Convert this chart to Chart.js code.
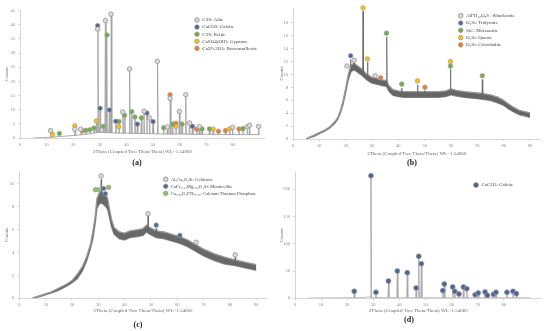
<!DOCTYPE html>
<html>
<head>
<meta charset="utf-8">
<script src="https://cdn.jsdelivr.net/npm/chart.js@4.4.1/dist/chart.umd.min.js"></script>
<style>
  body { margin: 0; background: #fff; width: 550px; height: 331px; position: relative; overflow: hidden; font-family: "Liberation Serif", serif; }
  canvas { position: absolute; }
  .tag { position: absolute; font-weight: bold; font-size: 8px; color: #222; transform: translate(-50%, -50%); }
</style>
</head>
<body>
<canvas id="chartA" width="275" height="165" style="left:0;top:0"></canvas>
<canvas id="chartB" width="275" height="165" style="left:275px;top:0"></canvas>
<canvas id="chartC" width="275" height="166" style="left:0;top:165px"></canvas>
<canvas id="chartD" width="275" height="166" style="left:275px;top:165px"></canvas>
<div class="tag" id="tagA" style="left:137px;top:162px"></div>
<div class="tag" id="tagB" style="left:412px;top:162px"></div>
<div class="tag" id="tagC" style="left:138px;top:324px"></div>
<div class="tag" id="tagD" style="left:409px;top:319px"></div>
<script>
const xTitle = "2Theta (Coupled Two Theta/Theta) WL=1.54060";
const yTitle = "Counts";
const panelTags = ["(a)", "(b)", "(c)", "(d)"];

// (a) cement: background trace and peaks
const bgPosA = [5, 10, 15, 20, 25, 28, 30, 35, 40, 45, 50, 55, 60, 65, 70, 75, 80, 85, 90];
const bgCountA = [0, 0.2, 0.5, 0.9, 1.3, 1.8, 2.0, 1.8, 1.7, 1.6, 1.5, 1.4, 1.4, 1.3, 1.3, 1.2, 1.2, 1.2, 1.2];
const peakPosA = [11.6, 20.7, 22.9, 24.8, 26.3, 27.8, 28.7, 29.3, 30.1, 31.3, 32.1, 32.6, 33.6, 34.3, 36.0, 37.2, 38.7, 39.4, 41.2, 42.0, 43.2, 44.1, 45.6, 46.6, 47.7, 48.7, 50.0, 51.7, 54.0, 55.4, 56.5, 57.4, 58.6, 59.9, 60.9, 62.3, 63.7, 64.8, 66.4, 67.4, 68.4, 71.2, 72.6, 74.6, 77.2, 78.8, 79.9, 82.3, 83.8, 85.5, 86.3, 89.7];
const peakTopA = [1.8, 3.4, 2.3, 2.0, 2.2, 2.7, 5.2, 38.0, 9.8, 3.3, 40.8, 35.6, 9.2, 43.2, 5.1, 5.0, 8.5, 7.3, 23.8, 8.6, 6.7, 4.2, 6.4, 8.8, 8.1, 6.4, 5.1, 26.5, 2.9, 3.2, 13.4, 4.2, 4.4, 8.7, 4.2, 14.7, 4.6, 3.4, 2.4, 3.3, 2.5, 2.5, 2.4, 1.8, 1.9, 2.5, 3.1, 2.5, 2.6, 3.3, 3.8, 3.4];
const peakBaseA = [0.3, 0.9, 1.1, 1.3, 1.5, 1.7, 1.9, 2.0, 2.0, 1.9, 1.9, 1.9, 1.8, 1.8, 1.7, 1.7, 1.7, 1.7, 1.6, 1.6, 1.6, 1.6, 1.6, 1.6, 1.6, 1.5, 1.5, 1.5, 1.4, 1.4, 1.4, 1.4, 1.4, 1.4, 1.4, 1.4, 1.3, 1.3, 1.3, 1.3, 1.3, 1.3, 1.3, 1.2, 1.2, 1.2, 1.2, 1.2, 1.2, 1.2, 1.2, 1.2];
const phaseNamesA = ["C3S: Alite", "CaCO3: Calcite", "C2S: Belite", "CaSO4(OH): Gypsum", "Ca2Fe2O5: Brownmillerite"];
const aliteA = [[11.5, 2.6], [20.6, 3.1], [22.8, 3.1], [29.2, 38.5], [32.1, 41.5], [34.2, 43.8], [38.6, 9.2], [41.2, 24.4], [46.6, 9.5], [48.7, 7.1], [51.6, 27.1], [55.4, 3.9], [56.4, 14.0], [59.9, 9.4], [62.3, 15.3], [63.7, 5.3], [67.4, 4.0], [79.9, 3.8], [85.5, 4.0], [86.3, 4.5], [89.7, 4.1]];
const calciteA = [[29.2, 39.7], [30.1, 10.5], [33.6, 9.9], [36.0, 5.9], [44.1, 4.9], [47.7, 8.8], [50.0, 5.8], [64.8, 4.1]];
const beliteA = [[14.8, 1.6], [24.8, 2.7], [26.3, 2.9], [27.8, 3.5], [31.3, 4.1], [32.7, 36.4], [37.2, 5.8], [39.3, 8.0], [42.0, 9.3], [43.2, 7.4], [45.6, 7.1], [54.0, 3.6], [57.4, 4.9], [60.9, 4.9], [68.4, 3.2], [71.2, 3.2], [83.8, 3.3]];
const gypsumA = [[12.2, 1.2], [20.6, 4.3], [28.7, 6.0], [37.1, 4.0], [58.6, 4.1], [72.6, 3.1], [78.8, 3.2]];
const brownA = [[23.6, 2.5], [56.4, 15.3], [58.6, 5.2], [66.4, 3.1], [74.6, 2.4], [77.2, 2.6], [82.3, 3.2]];

// (b) noisy band (upper / lower edge) and peaks
const posB = [5, 8, 10, 12, 14, 16, 17, 18, 19, 20, 21, 22, 23, 24, 26, 28, 30, 32, 34, 35.5, 36.5, 38, 40, 42, 45, 50, 55, 58, 60, 62, 65, 70, 72, 75, 78, 80, 82, 84, 86, 88, 90];
const upperB = [0.05, 0.6, 1.0, 1.4, 1.9, 2.75, 3.35, 4.4, 5.9, 7.85, 10.05, 11.4, 11.7, 11.5, 10.9, 10.05, 9.55, 9.35, 9.15, 9.05, 8.25, 7.65, 7.45, 7.35, 7.35, 7.35, 7.35, 7.45, 7.75, 7.55, 7.35, 7.15, 7.05, 6.85, 6.45, 6.0, 5.4, 4.85, 4.45, 4.25, 4.05];
const lowerB = [0, 0.4, 0.8, 1.2, 1.7, 2.45, 3.05, 4.0, 5.3, 7.15, 9.15, 10.4, 10.7, 10.5, 9.9, 9.15, 8.65, 8.45, 8.25, 8.15, 7.35, 6.75, 6.55, 6.45, 6.45, 6.45, 6.45, 6.55, 6.85, 6.65, 6.45, 6.25, 6.15, 5.95, 5.55, 5.2, 4.6, 4.15, 3.75, 3.55, 3.35];
const peakPosB = [21.9, 23.2, 26.6, 28.3, 31.2, 33.3, 35.6, 41.3, 47.3, 50.1, 59.8, 71.9];
const peakTopB = [12.3, 11.8, 19.8, 11.9, 9.4, 9.0, 15.8, 7.9, 8.4, 7.5, 10.8, 9.2];
const peakBaseB = [11.2, 11.2, 10.4, 9.6, 9.0, 8.7, 8.6, 7.0, 6.9, 6.9, 7.1, 6.6];
const phaseNamesB = ["AlFH₁₀O₉S : Khademite", "O₂Si: Tridymite", "SiC: Moissanite", "O₂Si: Quartz", "O₂Si: Cristobalite"];
const khademiteB = [[20.5, 11.3], [23.2, 12.2], [31.2, 9.8]];
const tridymiteB = [[21.9, 12.9]];
const moissaniteB = [[35.5, 16.4], [41.3, 8.5], [59.8, 11.3], [71.9, 9.8]];
const quartzB = [[26.6, 20.3], [28.3, 12.4], [47.3, 9.0], [59.8, 12.0]];
const cristobaliteB = [[33.3, 9.5], [50.1, 8.0]];

// (c) noisy band and peaks
const posC = [5, 8, 10, 12, 15, 18, 20, 22, 24, 25.5, 27, 28, 28.8, 29.5, 30.5, 31.5, 32.5, 33.5, 34.3, 35, 36, 38, 40, 42, 45, 47, 48.3, 49.5, 52, 55, 58, 61, 64, 67, 70, 74, 78, 82, 86, 90];
const upperC = [0.03, 0.25, 0.4, 0.55, 0.9, 1.25, 1.55, 2.1, 2.8, 3.6, 4.7, 5.95, 7.15, 8.75, 9.3, 9.3, 9.1, 8.8, 7.8, 6.95, 6.2, 5.8, 5.7, 5.9, 6.0, 6.1, 6.4, 6.2, 5.9, 5.8, 5.6, 5.4, 5.1, 4.7, 4.3, 3.9, 3.6, 3.35, 3.15, 2.95];
const lowerC = [0, 0.15, 0.3, 0.45, 0.7, 1.05, 1.35, 1.7, 2.4, 3.2, 4.3, 5.25, 6.45, 7.85, 8.3, 8.3, 8.1, 7.8, 7.0, 6.25, 5.6, 5.2, 5.1, 5.3, 5.4, 5.5, 5.8, 5.6, 5.3, 5.2, 5.0, 4.8, 4.5, 4.1, 3.7, 3.3, 3.0, 2.85, 2.65, 2.45];
const peakPosC = [31.1, 48.9, 52.0, 61.0, 67.2, 82.0];
const peakTopC = [10.4, 7.2, 6.1, 5.4, 4.6, 3.6];
const peakBaseC = [9.0, 6.0, 5.7, 4.9, 4.3, 3.2];
const phaseNamesC = ["Al₂Ca₂O₇Si: Gehlenite", "CaFe₀.₂₄Mg₀.₇₆O₄Si: Monticellite", "Ca₀.₅₀O₄PTh₀.₂₅: Calcium Thorium Phosphate"];
const gehleniteC = [[31.1, 10.7], [48.9, 7.4], [67.2, 4.9], [82.0, 3.8]];
const monticelliteC = [[32.0, 9.6], [32.7, 9.15], [52.0, 6.4], [61.0, 5.5]];
const phosphateC = [[28.9, 9.5], [30.1, 9.5], [33.9, 9.7]];

// (d) calcite
const bgPosD = [5, 20, 27, 28.5, 30, 40, 60, 90];
const bgCountD = [0.5, 1, 1.5, 3, 1.5, 1.2, 1, 1];
const peakPosD = [22.7, 29.1, 31.0, 35.8, 39.2, 43.0, 46.4, 47.4, 48.4, 56.6, 57.2, 60.4, 61.2, 62.8, 64.5, 65.8, 69.0, 70.2, 72.8, 73.7, 76.0, 77.0, 81.2, 83.5, 84.8];
const peakTopD = [9, 222, 6, 29, 47, 44, 14, 74, 60, 10, 23, 17, 9, 5, 17, 14, 4, 6, 8, 3, 4, 8, 8, 10, 5];
const peakBaseD = 1;
const phaseNamesD = ["CaCO3: Calcite"];
const calciteD = [[22.7, 12.8], [29.1, 225], [31.0, 11.0], [35.8, 31.8], [39.2, 50.2], [43.0, 47.1], [46.4, 19.0], [47.4, 77], [48.4, 63.6], [56.6, 14.1], [57.2, 26.3], [60.4, 20.8], [61.2, 12.8], [62.8, 8.0], [64.5, 20.8], [65.8, 17.7], [69.0, 6.7], [70.2, 9.8], [72.8, 11.6], [73.7, 5.5], [76.0, 7.3], [77.0, 11.0], [81.2, 11.0], [83.5, 12.8], [84.8, 8.6]];

const GREY = ["#dadada", "#8a8a8a"];
const BLUE = ["#4d6391", "#a0a0a0"];
const GREEN = ["#72ad4a", "#a0a0a0"];
const YELLOW = ["#ffc000", "#a0a0a0"];
const ORANGE = ["#ed7d31", "#a0a0a0"];

function toPoints(xs, ys) {
   return xs.map((x, i) => ({ x: x, y: ys[i] }));
}

function peakPoints(pos, top, base, w) {
   const pts = [];
   pos.forEach((p, i) => {
      const b = Array.isArray(base) ? base[i] : base;
      pts.push({ x: p - w, y: b }, { x: p, y: top[i] }, { x: p + w, y: b }, { x: p + w, y: null });
   });
   return pts;
}

function phaseSet(label, pairs, style, r) {
   return {
      label: label, phase: true,
      data: pairs.map(p => ({ x: p[0], y: p[1] })),
      showLine: false, pointRadius: r || 2.3, pointHoverRadius: 0,
      pointBackgroundColor: style[0], pointBorderColor: style[1], pointBorderWidth: 0.7,
      backgroundColor: style[0], borderColor: style[1],
      order: 0, clip: false
   };
}

function lineSet(points, color, width) {
   return { data: points, borderColor: color, borderWidth: width || 0.8, pointRadius: 0, fill: false, order: 1 };
}

// the noise band: dark fill, lighter ragged edge
function bandSets(pos, upper, lower, color) {
   return [
      { data: toPoints(pos, upper), borderColor: "#9a9a9a", borderWidth: 1.3, backgroundColor: color, fill: "+1", pointRadius: 0, order: 2 },
      { data: toPoints(pos, lower), borderColor: "#9a9a9a", borderWidth: 1.3, fill: false, pointRadius: 0, order: 2 }
   ];
}

// legend drawn inside the plot, one row per phase dataset
const phaseLegend = {
   id: "phaseLegend",
   afterDraw(chart, args, opts) {
      const ctx = chart.ctx;
      ctx.save();
      ctx.font = opts.size + "px 'Liberation Serif', serif";
      ctx.textBaseline = "middle";
      let row = 0;
      chart.data.datasets.forEach(ds => {
         if (!ds.phase) return;
         const y = opts.y + row * opts.dy;
         ctx.beginPath();
         ctx.arc(opts.x, y, opts.r, 0, Math.PI * 2);
         ctx.fillStyle = ds.backgroundColor;
         ctx.fill();
         ctx.lineWidth = 0.8;
         ctx.strokeStyle = ds.borderColor;
         ctx.stroke();
         ctx.fillStyle = "#444";
         ctx.fillText(ds.label, opts.x + opts.r + 3, y);
         row++;
      });
      ctx.restore();
   }
};

function makePanel(id, o) {
   const tickFont = { family: "'Liberation Serif', serif", size: 4.5 };
   const titleFont = { family: "'Liberation Serif', serif", size: 5 };
   return new Chart(document.getElementById(id), {
      type: "line",
      data: { datasets: o.datasets },
      options: {
         responsive: false,
         animation: false,
         events: [],
         layout: { padding: o.padding },
         plugins: {
            legend: { display: false },
            tooltip: { enabled: false },
            phaseLegend: o.legend
         },
         scales: {
            x: {
               type: "linear", min: 0, max: o.xMax,
               afterBuildTicks: axis => { axis.ticks = axis.ticks.filter(t => t.value % 10 === 0); },
               afterFit: s => { s.height = o.xHeight; },
               ticks: { stepSize: 10, font: tickFont, color: "#8a8a8a", padding: 2, maxRotation: 0 },
               grid: { drawOnChartArea: false, tickLength: 2, color: "#d6d6d6" },
               border: { color: "#d6d6d6" },
               title: { display: true, text: xTitle, font: titleFont, color: "#666", padding: 0 }
            },
            y: {
               min: 0, max: o.yMax,
               afterBuildTicks: axis => { axis.ticks = axis.ticks.filter(t => Math.abs(t.value / o.yStep - Math.round(t.value / o.yStep)) < 1e-6); },
               afterFit: s => { s.width = o.yWidth; },
               ticks: { stepSize: o.yStep, font: tickFont, color: "#8a8a8a", padding: 3 },
               grid: { drawOnChartArea: false, tickLength: 2, color: "#d6d6d6" },
               border: { color: "#d6d6d6" },
               title: { display: true, text: yTitle, font: titleFont, color: "#666", padding: 0 }
            }
         }
      },
      plugins: [phaseLegend]
   });
}

makePanel("chartA", {
   xMax: 92, yMax: 45, yStep: 5, yWidth: 16, xHeight: 17,
   padding: { left: 4, right: 10.2, top: 10.7, bottom: 10 },
   legend: { x: 197, y: 20, dy: 7.1, r: 2.3, size: 5 },
   datasets: [
      phaseSet(phaseNamesA[0], aliteA, GREY),
      phaseSet(phaseNamesA[1], calciteA, BLUE),
      phaseSet(phaseNamesA[2], beliteA, GREEN),
      phaseSet(phaseNamesA[3], gypsumA, YELLOW),
      phaseSet(phaseNamesA[4], brownA, ORANGE),
      lineSet(toPoints(bgPosA, bgCountA), "#a3a3a3", 0.9),
      lineSet(peakPoints(peakPosA, peakTopA, peakBaseA, 0.2), "#a3a3a3", 0.9)
   ]
});

makePanel("chartB", {
   xMax: 94, yMax: 20.3, yStep: 2, yWidth: 14, xHeight: 18,
   padding: { left: 4, right: 9.5, top: 8, bottom: 8 },
   legend: { x: 185.7, y: 15.7, dy: 7.3, r: 2.3, size: 5 },
   datasets: [
      phaseSet(phaseNamesB[0], khademiteB, GREY),
      phaseSet(phaseNamesB[1], tridymiteB, ["#4a68a6", "#a0a0a0"]),
      phaseSet(phaseNamesB[2], moissaniteB, GREEN),
      phaseSet(phaseNamesB[3], quartzB, YELLOW),
      phaseSet(phaseNamesB[4], cristobaliteB, ORANGE),
      lineSet(peakPoints(peakPosB, peakTopB, peakBaseB, 0.15), "#6a6a6a", 0.8),
      ...bandSets(posB, upperB, lowerB, "#656565")
   ]
});

makePanel("chartC", {
   xMax: 94, yMax: 11.1, yStep: 2, yWidth: 15.3, xHeight: 15.4,
   padding: { left: 4, right: 8.2, top: 6.4, bottom: 17.3 },
   legend: { x: 165.7, y: 14.3, dy: 7, r: 2.3, size: 4.6 },
   datasets: [
      phaseSet(phaseNamesC[0], gehleniteC, GREY),
      phaseSet(phaseNamesC[1], monticelliteC, ["#4a68a6", "#a0a0a0"]),
      phaseSet(phaseNamesC[2], phosphateC, ["#8cc063", "#a0a0a0"]),
      lineSet(peakPoints(peakPosC, peakTopC, peakBaseC, 0.15), "#6a6a6a", 0.8),
      ...bandSets(posC, upperC, lowerC, "#686868")
   ]
});

makePanel("chartD", {
   xMax: 94.5, yMax: 231, yStep: 50, yWidth: 16, xHeight: 15.4,
   padding: { left: 4, right: 8.3, top: 7.4, bottom: 17.3 },
   legend: { x: 201, y: 20, dy: 7, r: 2.5, size: 5 },
   datasets: [
      phaseSet(phaseNamesD[0], calciteD, BLUE, 2.5),
      lineSet(toPoints(bgPosD, bgCountD), "#b0b0b0", 0.8),
      lineSet(peakPoints(peakPosD, peakTopD, peakBaseD, 0.2), "#a8a8a8", 0.9)
   ]
});

["tagA", "tagB", "tagC", "tagD"].forEach((id, i) => {
   document.getElementById(id).textContent = panelTags[i];
});
</script>
</body>
</html>
